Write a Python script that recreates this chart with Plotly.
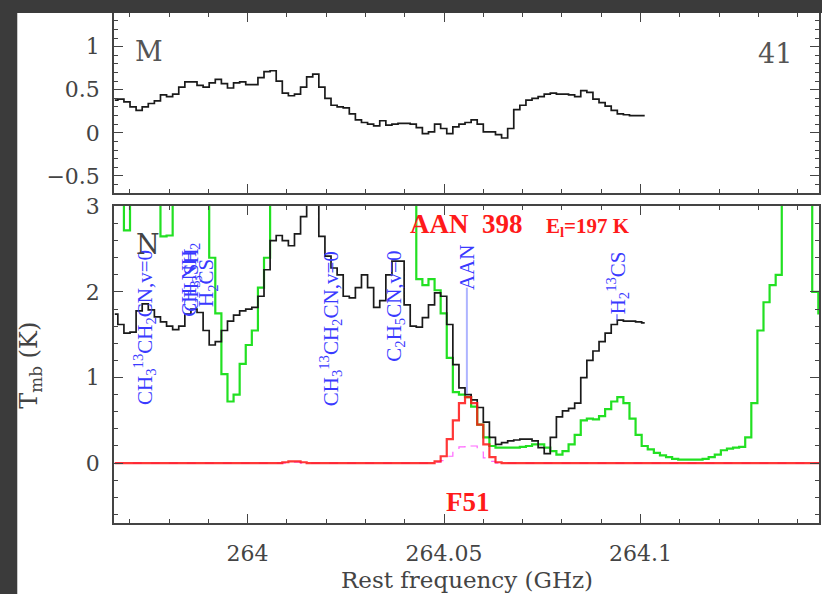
import numpy as np
import plotly.graph_objects as go

# ---------------- data ----------------
F0 = 263.9662      # first channel centre (GHz)
DF = 0.00155       # channel width (GHz)

# top panel (M): observed spectrum
top_obs = [0.38, 0.39, 0.36, 0.30, 0.26, 0.30, 0.34, 0.37, 0.44, 0.42,
           0.45, 0.53, 0.59, 0.59, 0.55, 0.53, 0.58, 0.62, 0.57, 0.52,
           0.58, 0.59, 0.56, 0.56, 0.64, 0.71, 0.72, 0.60, 0.46, 0.43,
           0.45, 0.53, 0.65, 0.68, 0.53, 0.40, 0.32, 0.30, 0.29, 0.22,
           0.15, 0.12, 0.10, 0.08, 0.14, 0.09, 0.10, 0.11, 0.11, 0.10,
           0.06, -0.01, 0.01, 0.10, 0.05, -0.01, 0.07, 0.10, 0.12, 0.15,
           0.10, 0.01, 0.01, -0.02, -0.06, 0.05, 0.27, 0.32, 0.38, 0.40,
           0.42, 0.45, 0.46, 0.45, 0.45, 0.44, 0.42, 0.49, 0.47, 0.39,
           0.35, 0.31, 0.26, 0.22, 0.21, 0.20, 0.20, 0.20]

# bottom panel (N): observed spectrum
bot_obs = [1.74, 1.62, 1.52, 1.53, 1.78, 1.86, 1.79, 1.71, 1.65, 1.60,
           1.56, 1.60, 1.74, 1.80, 1.76, 1.55, 1.38, 1.42, 1.55, 1.66,
           1.73, 1.78, 1.80, 1.82, 1.95, 2.26, 2.60, 2.66, 2.60, 2.54,
           2.68, 2.88, 3.10, 3.05, 2.65, 2.42, 2.28, 2.20, 1.95, 1.93,
           2.05, 2.20, 2.05, 1.82, 1.90, 2.20, 2.36, 2.36, 1.85, 1.60,
           1.59, 1.70, 1.85, 1.99, 1.95, 1.62, 1.15, 0.88, 0.80, 0.74,
           0.65, 0.48, 0.30, 0.22, 0.24, 0.26, 0.27, 0.28, 0.28, 0.26,
           0.18, 0.11, 0.30, 0.54, 0.61, 0.64, 0.70, 1.00, 1.20, 1.31,
           1.42, 1.52, 1.62, 1.67, 1.66, 1.66, 1.65, 1.64]

# bottom panel: second (green) spectrum
bot_green = [3.30, 3.30, 2.72, 3.30, 3.30, 3.30, 3.30, 3.30, 2.65, 2.66,
             3.30, 3.30, 3.30, 3.30, 3.30, 3.30, 2.40, 1.75, 1.04, 0.72,
             0.80, 1.16, 1.38, 1.55, 2.05, 2.40, 3.30, 3.30, 3.30, 3.30,
             3.30, 3.30, 3.30, 3.30, 3.30, 3.30, 3.30, 3.30, 3.30, 3.30,
             3.30, 3.30, 3.30, 3.30, 3.30, 3.30, 3.30, 3.30, 3.30, 3.30,
             2.15, 2.08, 2.15, 2.02, 1.75, 1.23, 0.83, 0.80, 0.77, 0.66,
             0.45, 0.30, 0.20, 0.18, 0.18, 0.18, 0.18, 0.19, 0.20, 0.22,
             0.22, 0.18, 0.14, 0.10, 0.14, 0.22, 0.33, 0.50, 0.52, 0.51,
             0.55, 0.63, 0.72, 0.77, 0.70, 0.52, 0.33, 0.20, 0.16, 0.12,
             0.09, 0.07, 0.05, 0.04, 0.04, 0.04, 0.04, 0.05, 0.07, 0.10,
             0.15, 0.17, 0.18, 0.19, 0.30, 0.70, 1.55, 1.88, 2.08, 2.20,
             3.30, 3.30, 3.30, 3.30, 3.30, 2.00, 1.75]

# model (red) and second model (magenta dashed)
model_red = [0.00, 0.00, 0.00, 0.00, 0.00, 0.00, 0.00, 0.00, 0.00, 0.00,
             0.00, 0.00, 0.00, 0.00, 0.00, 0.00, 0.00, 0.00, 0.00, 0.00,
             0.00, 0.00, 0.00, 0.00, 0.00, 0.00, 0.00, 0.00, 0.01, 0.02,
             0.02, 0.01, 0.00, 0.00, 0.00, 0.00, 0.00, 0.00, 0.00, 0.00,
             0.00, 0.00, 0.00, 0.00, 0.00, 0.00, 0.00, 0.00, 0.00, 0.00,
             0.00, 0.00, 0.00, 0.02, 0.08, 0.28, 0.50, 0.70, 0.77, 0.70,
             0.45, 0.22, 0.07, 0.01, 0.00, 0.00, 0.00, 0.00, 0.00, 0.00,
             0.00, 0.00, 0.00, 0.00, 0.00, 0.00, 0.00, 0.00, 0.00, 0.00,
             0.00, 0.00, 0.00, 0.00, 0.00, 0.00, 0.00, 0.00, 0.00, 0.00,
             0.00, 0.00, 0.00, 0.00, 0.00, 0.00, 0.00, 0.00, 0.00, 0.00,
             0.00, 0.00, 0.00, 0.00, 0.00, 0.00, 0.00, 0.00, 0.00, 0.00,
             0.00, 0.00, 0.00, 0.00, 0.00, 0.00, 0.00]
model_mag = [0.00, 0.00, 0.00, 0.00, 0.00, 0.00, 0.00, 0.00, 0.00, 0.00,
             0.00, 0.00, 0.00, 0.00, 0.00, 0.00, 0.00, 0.00, 0.00, 0.00,
             0.00, 0.00, 0.00, 0.00, 0.00, 0.00, 0.00, 0.00, 0.00, 0.01,
             0.01, 0.00, 0.00, 0.00, 0.00, 0.00, 0.00, 0.00, 0.00, 0.00,
             0.00, 0.00, 0.00, 0.00, 0.00, 0.00, 0.00, 0.00, 0.00, 0.00,
             0.00, 0.00, 0.00, 0.01, 0.03, 0.08, 0.14, 0.19, 0.22, 0.20,
             0.13, 0.06, 0.02, 0.00, 0.00, 0.00, 0.00, 0.00, 0.00, 0.00,
             0.00, 0.00, 0.00, 0.00, 0.00, 0.00, 0.00, 0.00, 0.00, 0.00,
             0.00, 0.00, 0.00, 0.00, 0.00, 0.00, 0.00, 0.00, 0.00, 0.00,
             0.00, 0.00, 0.00, 0.00, 0.00, 0.00, 0.00, 0.00, 0.00, 0.00,
             0.00, 0.00, 0.00, 0.00, 0.00, 0.00, 0.00, 0.00, 0.00, 0.00,
             0.00, 0.00, 0.00, 0.00, 0.00, 0.00, 0.00]

# line identifications: (label, freq GHz, T of label centre)
line_labels = ["CH<sub>3</sub><sup>13</sup>CH<sub>2</sub>CN,v=0",
               "CH<sub>3</sub>NH<sub>2</sub>",
               "CH<sub>3</sub>SH",
               "H<sub>2</sub>CS",
               "CH<sub>3</sub><sup>13</sup>CH<sub>2</sub>CN,v=0",
               "C<sub>2</sub>H<sub>5</sub>CN,v=0",
               "AAN",
               "H<sub>2</sub><sup>13</sup>CS"]
line_freqs = [263.9736, 263.9853, 263.9858, 263.9898, 264.0211, 264.0373, 264.0558, 264.0942]
line_label_T = [1.59, 2.14, 2.14, 2.10, 1.57, 1.83, 2.29, 2.11]
aan_line_T = [0.81, 2.05]

x_ticks = [264.0, 264.05, 264.1]
x_ticktext = ["264", "264.05", "264.1"]
top_yticks = [-0.5, 0, 0.5, 1]
top_yticktext = ["\u22120.5", "0", "0.5", "1"]
bot_yticks = [0, 1, 2, 3]
bot_yticktext = ["0", "1", "2", "3"]

# ---------------- figure ----------------
f_top = F0 + DF * np.arange(len(top_obs))
f_bot = F0 + DF * np.arange(len(bot_obs))
f_full = F0 + DF * np.arange(len(bot_green))

fig = go.Figure()
fig.add_trace(go.Scatter(x=f_top, y=top_obs, mode="lines", line=dict(color="#1a1a1a", width=1.7, shape="hvh"),
                         xaxis="x", yaxis="y", showlegend=False))
fig.add_trace(go.Scatter(x=f_full, y=bot_green, mode="lines", line=dict(color="#22e022", width=2.2, shape="hvh"),
                         xaxis="x2", yaxis="y2", showlegend=False))
fig.add_trace(go.Scatter(x=f_bot, y=bot_obs, mode="lines", line=dict(color="#1a1a1a", width=1.7, shape="hvh"),
                         xaxis="x2", yaxis="y2", showlegend=False))
fig.add_trace(go.Scatter(x=f_full, y=model_mag, mode="lines", line=dict(color="#ff66ff", width=1.2, dash="dash", shape="hvh"),
                         xaxis="x2", yaxis="y2", showlegend=False))
fig.add_trace(go.Scatter(x=f_full, y=model_red, mode="lines", line=dict(color="rgba(255,20,20,0.85)", width=2.2, shape="hvh"),
                         xaxis="x2", yaxis="y2", showlegend=False))
# AAN marker line
fig.add_trace(go.Scatter(x=[line_freqs[6], line_freqs[6]], y=aan_line_T, mode="lines",
                         line=dict(color="rgba(120,130,255,0.6)", width=2),
                         xaxis="x2", yaxis="y2", showlegend=False))

FRAME = "#444444"
TICKFONT = dict(family="DejaVu Serif", size=22, color="#444444")
XRANGE = [263.9660, 264.1454]

common_x = dict(range=XRANGE, showline=True, mirror="allticks", linecolor=FRAME, linewidth=1.5,
                ticks="inside", ticklen=9, tickwidth=1.2, tickcolor=FRAME, showgrid=False, zeroline=False,
                tickvals=x_ticks, ticktext=x_ticktext,
                minor=dict(ticks="inside", ticklen=4, tickwidth=1, tickcolor=FRAME, dtick=0.01, tick0=264.0, showgrid=False))
common_y = dict(showline=True, mirror="allticks", linecolor=FRAME, linewidth=1.5,
                ticks="inside", ticklen=9, tickwidth=1.2, tickcolor=FRAME, showgrid=False, zeroline=False,
                tickfont=TICKFONT, ticklabelstandoff=8)

fig.update_layout(
    width=822, height=594,
    margin=dict(l=114, r=1, t=5, b=71),
    paper_bgcolor="white", plot_bgcolor="white",
    xaxis=dict(**common_x, anchor="y", showticklabels=False, matches="x2"),
    yaxis=dict(**common_y, domain=[0.6467, 1.0], range=[-0.7, 1.39], tickvals=top_yticks, ticktext=top_yticktext,
               minor=dict(ticks="inside", ticklen=4, tickwidth=1, tickcolor=FRAME, dtick=0.1, tick0=0, showgrid=False)),
    xaxis2=dict(**common_x, anchor="y2", tickfont=TICKFONT, ticklabelstandoff=10),
    yaxis2=dict(**common_y, domain=[0.0, 0.6216], range=[-0.7, 3.005], tickvals=bot_yticks, ticktext=bot_yticktext,
                minor=dict(ticks="inside", ticklen=4, tickwidth=1, tickcolor=FRAME, dtick=0.2, tick0=0, showgrid=False)),
)

# dark frame strips of the screenshot
fig.add_shape(type="rect", xref="paper", yref="paper", x0=-0.2, x1=(17 - 114) / 707, y0=-0.2, y1=1.1,
              fillcolor="#3b3b3b", line_width=0, layer="above")
fig.add_shape(type="rect", xref="paper", yref="paper", x0=-0.2, x1=1.1, y0=1.0, y1=1.05,
              fillcolor="#3b3b3b", line_width=0, layer="above")

ann = []
BLUE = "#3a3aff"
for lab, fx, ty in zip(line_labels, line_freqs, line_label_T):
    ann.append(dict(x=fx, y=ty, xref="x2", yref="y2", text=lab, showarrow=False, textangle=-90,
                    xanchor="center", yanchor="middle",
                    font=dict(family="Liberation Serif", size=21, color=BLUE)))
# H2 13CS small tick
fig.add_trace(go.Scatter(x=[line_freqs[7] - 0.0002, line_freqs[7] - 0.0002], y=[1.67, 1.74], mode="lines",
                         line=dict(color=BLUE, width=1), xaxis="x2", yaxis="y2", showlegend=False))

ann += [
    dict(x=263.9749, y=0.94, xref="x", yref="y", text="M", showarrow=False,
         font=dict(family="DejaVu Serif", size=27, color="#555555")),
    dict(x=264.1343, y=0.92, xref="x", yref="y", text="41", showarrow=False,
         font=dict(family="DejaVu Serif", size=27, color="#555555")),
    dict(x=263.9746, y=2.55, xref="x2", yref="y2", text="N", showarrow=False,
         font=dict(family="DejaVu Serif", size=27, color="#444444")),
    dict(x=264.0558, y=2.795, xref="x2", yref="y2", text="<b>AAN  398</b>", showarrow=False,
         font=dict(family="Liberation Serif", size=27, color="#ff1a1a")),
    dict(x=264.0865, y=2.76, xref="x2", yref="y2", text="<b>E<sub>l</sub>=197 K</b>", showarrow=False,
         font=dict(family="Liberation Serif", size=21, color="#ff1a1a")),
    dict(x=264.0561, y=-0.45, xref="x2", yref="y2", text="<b>F51</b>", showarrow=False,
         font=dict(family="Liberation Serif", size=27, color="#ff1a1a")),
    dict(x=(30 - 114) / 707, y=(523 - 363) / 518, xref="paper", yref="paper", text="T<sub>mb</sub> (K)",
         showarrow=False, textangle=-90, xanchor="center", yanchor="middle",
         font=dict(family="DejaVu Serif", size=24, color="#444444")),
    dict(x=0.5, y=(523 - 581) / 518, xref="paper", yref="paper", text="Rest frequency (GHz)",
         showarrow=False, xanchor="center", yanchor="middle",
         font=dict(family="DejaVu Serif", size=23, color="#444444")),
]
fig.update_layout(annotations=ann)

fig.write_html("out.html")
